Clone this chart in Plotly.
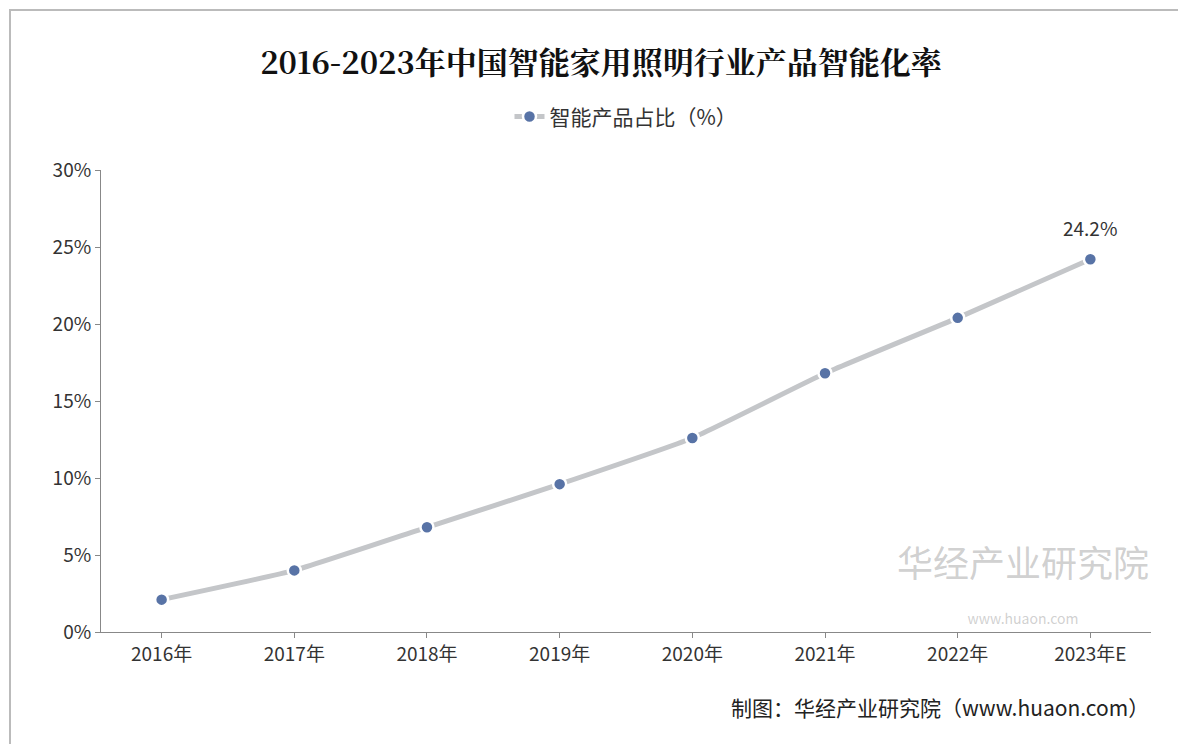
import plotly.graph_objects as go

years = ["2016年", "2017年", "2018年", "2019年", "2020年", "2021年", "2022年", "2023年E"]
values = [2.1, 4.0, 6.8, 9.6, 12.6, 16.8, 20.4, 24.2]
series_name = "智能产品占比（%）"
yticks = [0, 5, 10, 15, 20, 25, 30]

font = "Noto Sans CJK SC"
L, R, T, B = 93, 43, 162, 120
pw, ph = 1186 - L - R, 744 - T - B
fig = go.Figure()
fig.add_trace(go.Scatter(
    x=years, y=values, mode="lines+markers", name=series_name,
    line=dict(color="#c4c6c9", width=5, shape="spline", smoothing=0.4),
    marker=dict(size=13, color="#5873a6", line=dict(color="white", width=2.5)),
))
fig.add_annotation(x=years[-1], y=values[-1], text=f"{values[-1]}%", showarrow=False,
                   yshift=32, font=dict(family=font, size=19, color="#333"))
fig.update_layout(
    width=1186, height=744, paper_bgcolor="white", plot_bgcolor="white",
    margin=dict(l=L, r=R, t=T, b=B),
    title=dict(text="<b>2016-2023年中国智能家用照明行业产品智能化率</b>", x=0.5, y=0.94,
               xanchor="center", font=dict(family="Noto Serif CJK SC, " + font, size=31, color="#111")),
    legend=dict(orientation="h", x=0.5, xanchor="center", y=1.115, yanchor="middle",
                font=dict(family=font, size=21, color="#333")),
    showlegend=True,
    xaxis=dict(showline=True, linecolor="#888", ticks="outside", tickcolor="#888",
               tickfont=dict(family=font, size=19, color="#333"), showgrid=False),
    yaxis=dict(range=[0, 30], tickvals=yticks, ticktext=[f"{v}%" for v in yticks],
               showline=True, linecolor="#888", ticks="outside", tickcolor="#888",
               showgrid=False, zeroline=False,
               tickfont=dict(family=font, size=19, color="#333")),
    shapes=[dict(type="rect", xref="paper", yref="paper",
                 x0=-(L - 2) / pw, x1=1 + (R - 2) / pw, y0=-(B - 2) / ph, y1=1 + (T - 2) / ph,
                 line=dict(color="#bbb", width=2))],
)
fig.add_annotation(xref="paper", yref="paper", x=1.0, y=-0.2, xanchor="right", showarrow=False,
                   text="制图：华经产业研究院（www.huaon.com）",
                   font=dict(family=font, size=21, color="#222"))
fig.add_annotation(xref="paper", yref="paper", x=1.0, y=0.005, xanchor="right", yanchor="bottom",
                   showarrow=False,
                   text="华经产业研究院<br><span style='font-size:14px'>www.huaon.com</span>",
                   font=dict(family=font, size=36, color="rgba(150,150,150,0.45)"))
fig.write_html("out.html")
